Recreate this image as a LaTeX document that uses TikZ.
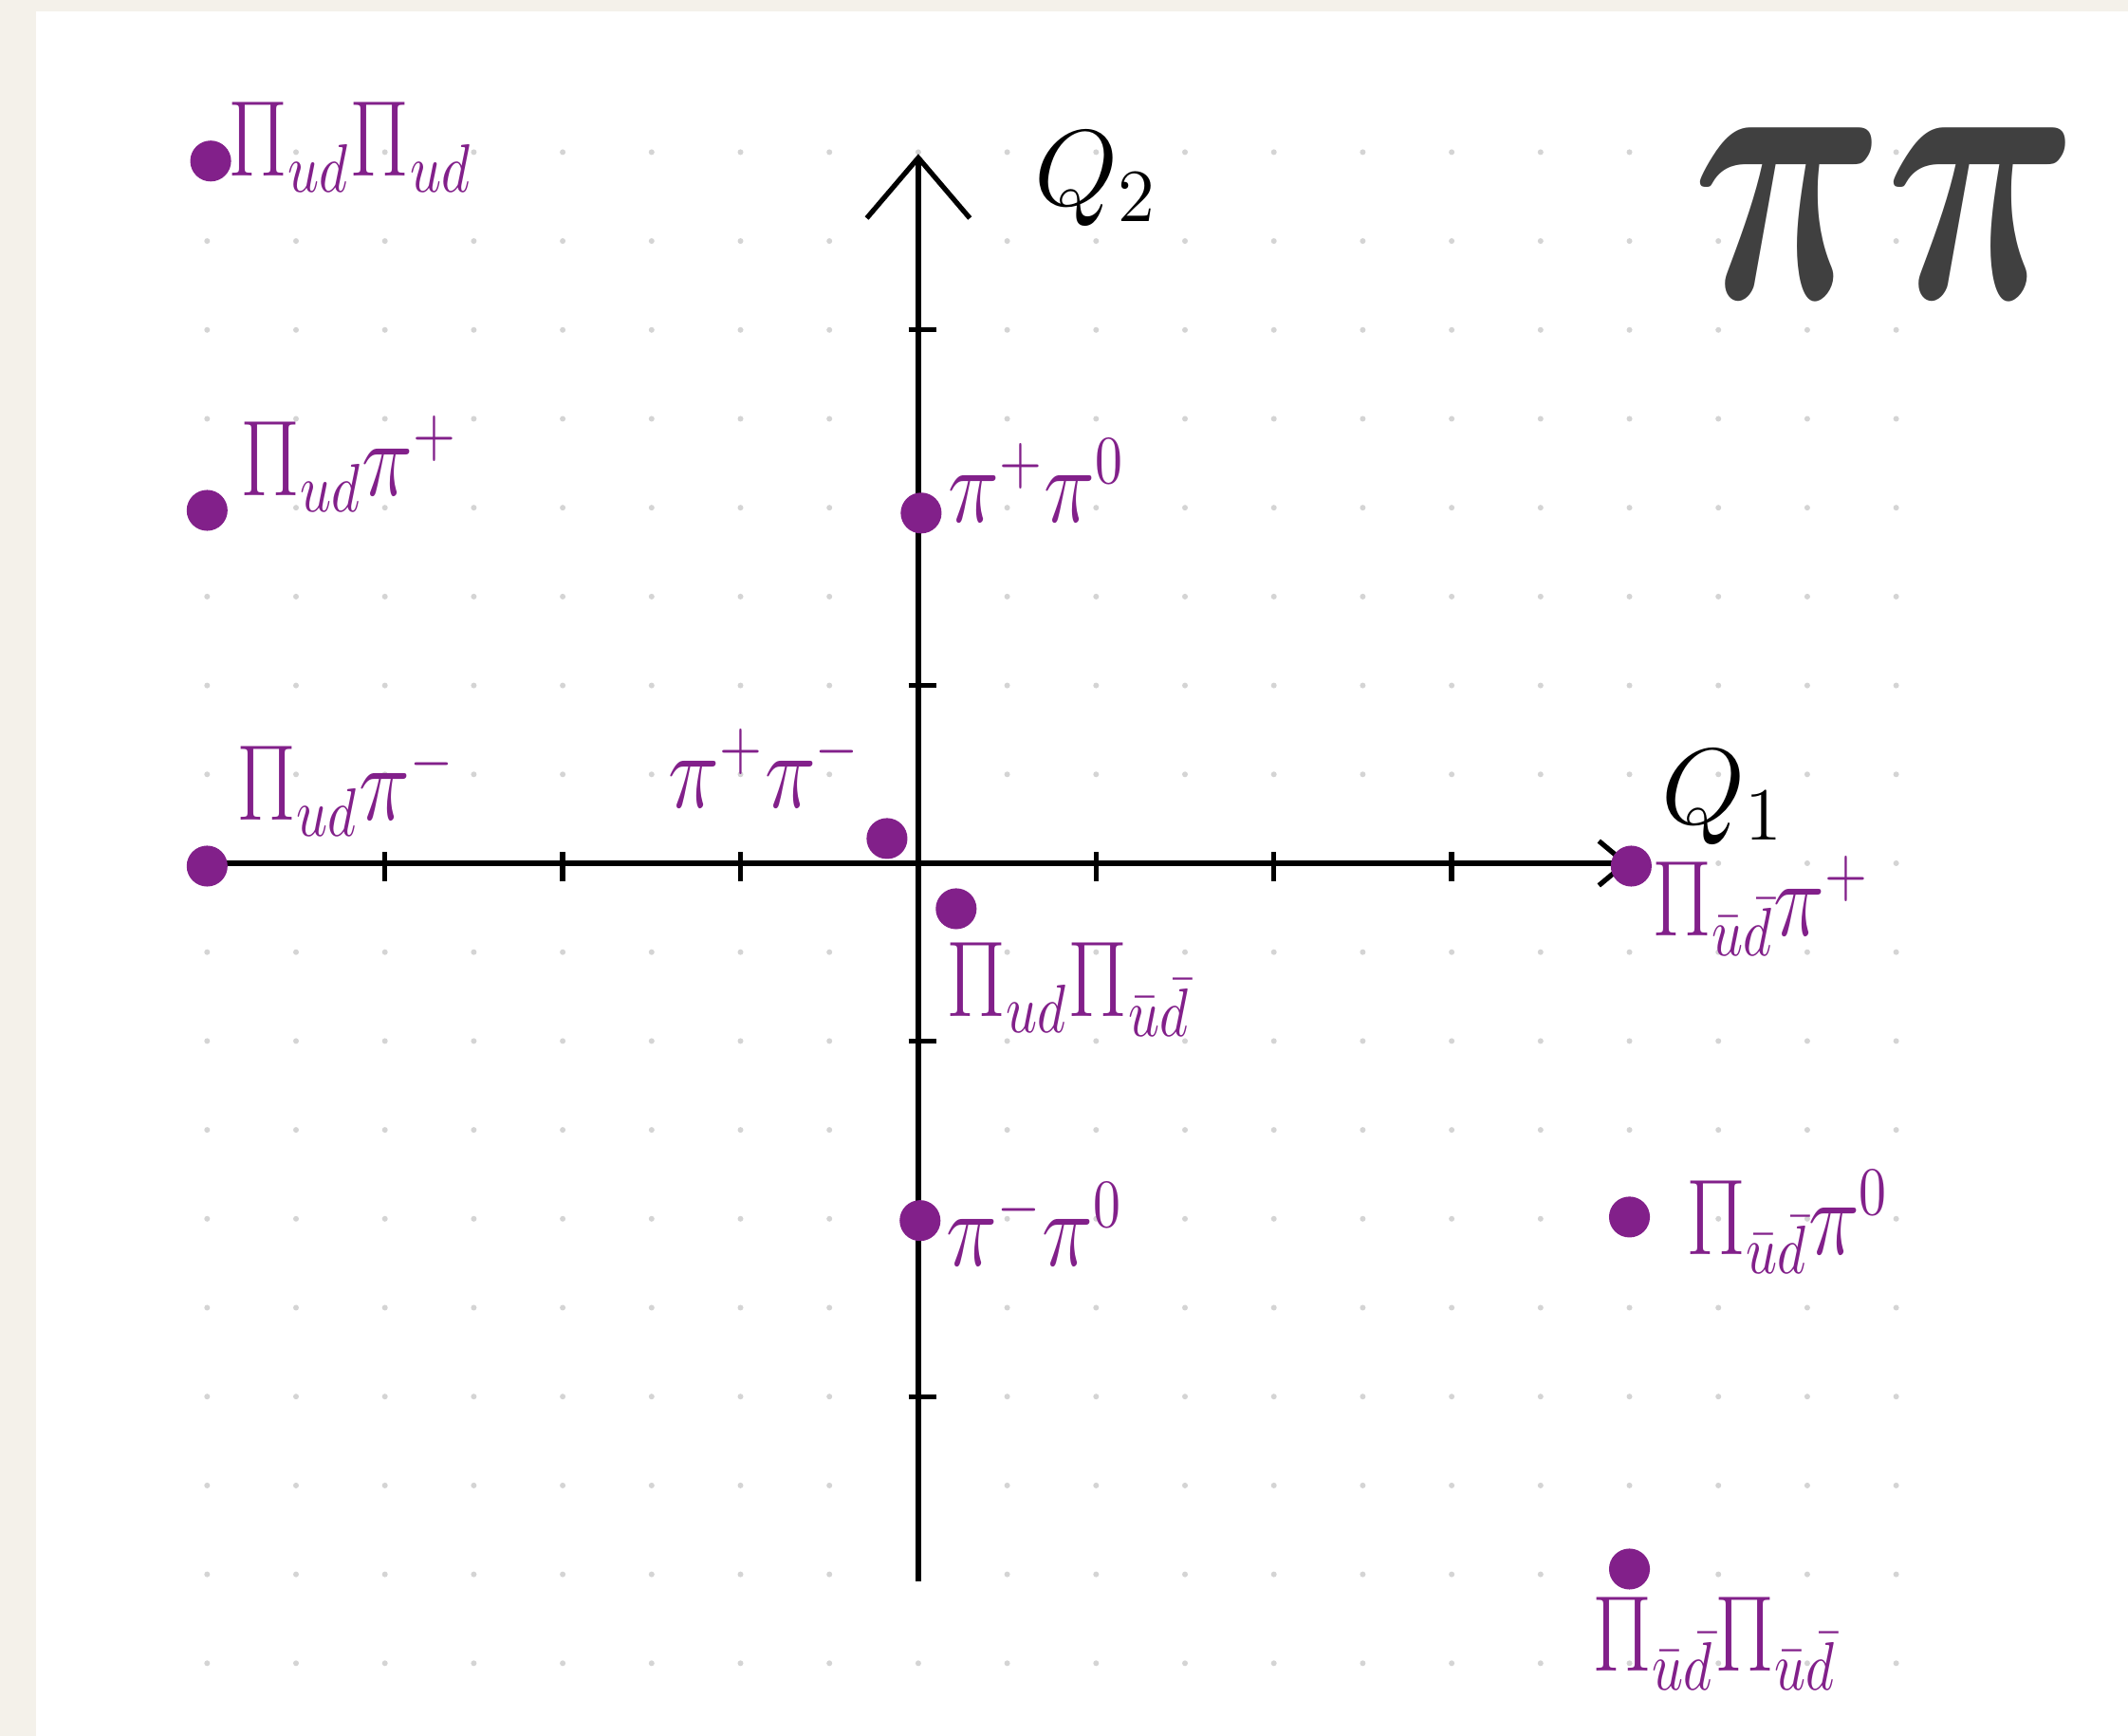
\documentclass[tikz,border=0pt]{standalone}
\usepackage{amsmath}
\usepackage{graphicx}
\usetikzlibrary{arrows.meta}
\definecolor{ink}{RGB}{130,32,138}
\definecolor{paper}{RGB}{244,241,234}
\definecolor{griddot}{RGB}{212,212,212}
\definecolor{logo}{RGB}{64,64,64}
\newcommand{\hw}[1]{\scalebox{0.8}[1]{$#1$}}

\begin{document}
\begin{tikzpicture}[x=1cm,y=1cm,line width=0.8pt,
  pdot/.style={circle,fill=ink,inner sep=0pt,minimum size=2.3mm},
  hand/.style={text=ink,inner sep=0pt,font=\fontsize{16}{18}\selectfont},
  axlabel/.style={inner sep=0pt,font=\fontsize{18}{21}\selectfont}]
  % Page and dotted paper.
  \useasboundingbox[fill=paper] (-5.165,-4.909) rectangle (6.804,4.856);
  \fill[white] (-4.962,-4.909) rectangle (6.804,4.792);
  \foreach \i in {-8,...,11}
    \foreach \j in {-9,...,8}
      \fill[griddot] (\i/2,\j/2) circle (0.016);
  % Charge axes with ticks.
  \coordinate (xl) at (-4,0);
  \coordinate (xr) at (4,0);
  \coordinate (yb) at (0,-4.04);
  \coordinate (yt) at (0,3.99);
  \draw[-{Straight Barb[length=1.5mm,width=2.5mm]}] (xl) -- (xr);
  \draw[-{Straight Barb[length=3.4mm,width=5.8mm]}] (yb) -- (yt);
  \foreach \x in {-3,-2,-1,1,2,3}
    \draw (\x,-0.1) -- (\x,0.065);
  \foreach \y in {-3,-1,1,3}
    \draw (-0.055,\y) -- (0.1,\y);
  \node[axlabel] (qone) at (4.53,0.37) {$Q_1$};
  \node[axlabel] (qtwo) at (1.0,3.85) {$Q_2$};
  \node[text=logo,inner sep=0pt] (pipi) at (5.44,3.655)
    {\resizebox{2.18cm}{0.96cm}{$\boldsymbol{\pi\pi}$}};
  % Two-particle states.
  \node[pdot] (udud) at (-3.98,3.95) {};
  \node[pdot] (udpip) at (-4.0,1.985) {};
  \node[pdot] (udpim) at (-4.0,-0.016) {};
  \node[pdot] (pippim) at (-0.176,0.139) {};
  \node[pdot] (udbar) at (0.213,-0.256) {};
  \node[pdot] (pippiz) at (0.016,1.97) {};
  \node[pdot] (pimpiz) at (0.01,-2.01) {};
  \node[pdot] (barpip) at (4.01,-0.016) {};
  \node[pdot] (barpiz) at (4.0,-1.99) {};
  \node[pdot] (barbar) at (4.0,-3.97) {};
  \node[hand] (l-udud) at (-3.196,4.03) {\hw{\Pi_{ud}\Pi_{ud}}};
  \node[hand] (l-udpip) at (-3.2,2.246) {\hw{\Pi_{ud}\pi^+}};
  \node[hand] (l-udpim) at (-3.22,0.42) {\hw{\Pi_{ud}\pi^-}};
  \node[hand] (l-pippim) at (-0.864,0.534) {\hw{\pi^+\pi^-}};
  \node[hand] (l-udbar) at (0.843,-0.71) {\hw{\Pi_{ud}\Pi_{\bar u\bar d}}};
  \node[hand] (l-pippiz) at (0.667,2.15) {\hw{\pi^+\pi^0}};
  \node[hand] (l-pimpiz) at (0.656,-2.03) {\hw{\pi^-\pi^0}};
  \node[hand] (l-barpip) at (4.74,-0.24) {\hw{\Pi_{\bar u\bar d}\pi^+}};
  \node[hand] (l-barpiz) at (4.89,-2.02) {\hw{\Pi_{\bar u\bar d}\pi^0}};
  \node[hand] (l-barbar) at (4.48,-4.39) {\hw{\Pi_{\bar u\bar d}\Pi_{\bar u\bar d}}};
\end{tikzpicture}
\end{document}
